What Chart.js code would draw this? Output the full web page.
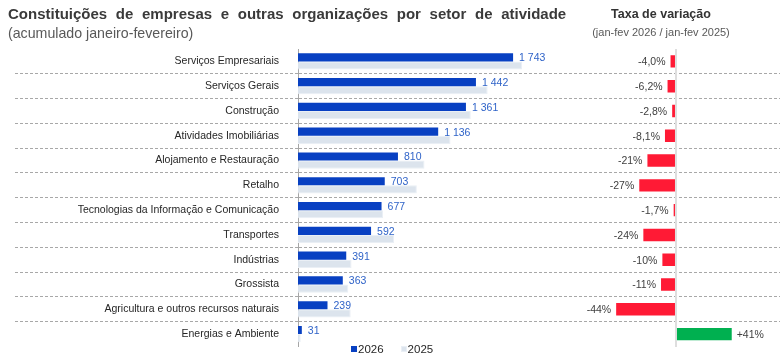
<!DOCTYPE html>
<html>
<head>
<meta charset="utf-8">
<script src="https://cdn.jsdelivr.net/npm/chart.js@4.4.1/dist/chart.umd.min.js"></script>
<style>
  body { margin: 0; background: #fff; font-family: "Liberation Sans", Arial, sans-serif; }
  #wrap { position: relative; width: 780px; height: 363px; overflow: hidden; }
  canvas { position: absolute; top: 0; }
  #left { left: 0; }
  #right { left: 560px; }
  .t { position: absolute; white-space: nowrap; line-height: 1; }
  #title { left: 8px; top: 5.5px; font-size: 15px; font-weight: bold; color: #3a3a3a; word-spacing: 4.5px; }
  #sub { left: 8px; top: 26px; font-size: 14.2px; color: #595959; }
  #rtitle { left: 561px; width: 200px; text-align: center; top: 8px; font-size: 12.5px; font-weight: bold; color: #333; }
  #rsub { left: 561px; width: 200px; text-align: center; top: 27px; font-size: 11px; color: #595959; }
  #legend { position: absolute; left: 351px; top: 343px; font-size: 11.5px; color: #262626; display: flex; }
  #legend span { display: flex; align-items: center; margin-right: 17px; }
  #legend i { display: inline-block; width: 6px; height: 6px; margin-right: 1px; box-sizing: border-box; }
</style>
</head>
<body>
<div id="wrap">
  <canvas id="left" width="780" height="363"></canvas>
  <canvas id="right" width="220" height="363"></canvas>
  <div class="t" id="title">Constituições de empresas e outras organizações por setor de atividade</div>
  <div class="t" id="sub">(acumulado janeiro-fevereiro)</div>
  <div class="t" id="rtitle">Taxa de variação</div>
  <div class="t" id="rsub">(jan-fev 2026 / jan-fev 2025)</div>
  <div id="legend"></div>
</div>
<script>
const categories = [
  "Serviços Empresariais",
  "Serviços Gerais",
  "Construção",
  "Atividades Imobiliárias",
  "Alojamento e Restauração",
  "Retalho",
  "Tecnologias da Informação e Comunicação",
  "Transportes",
  "Indústrias",
  "Grossista",
  "Agricultura e outros recursos naturais",
  "Energias e Ambiente"
]
const values2026 = [1743, 1442, 1361, 1136, 810, 703, 677, 592, 391, 363, 239, 31]
const values2025 = [1816, 1537, 1400, 1236, 1025, 963, 689, 779, 434, 408, 427, 22]
const variation = [-4.0, -6.2, -2.8, -8.1, -21, -27, -1.7, -24, -10, -11, -44, 41]

const font = "Liberation Sans"

function thousands(v) {
  return String(v).replace(/\B(?=(\d{3})+(?!\d))/g, " ")
}

function percent(v) {
  const s = Math.abs(v) < 10 ? v.toFixed(1).replace(".", ",") : v.toFixed(0)
  return (v > 0 ? "+" : "") + s + "%"
}

// writes the value next to the end of each bar of one dataset
function barLabels(datasetIndex, format, color, gap) {
  return {
    id: "barLabels" + datasetIndex,
    afterDatasetsDraw(chart) {
      const ctx = chart.ctx
      const data = chart.data.datasets[datasetIndex].data
      ctx.save()
      ctx.font = "10.5px " + font
      ctx.fillStyle = color
      ctx.textBaseline = "middle"
      chart.getDatasetMeta(datasetIndex).data.forEach((bar, i) => {
        const neg = data[i] < 0
        ctx.textAlign = neg ? "right" : "left"
        ctx.fillText(format(data[i]), bar.x + (neg ? -gap : gap), bar.y + 1)
      })
      ctx.restore()
    }
  }
}

const leftChart = new Chart(document.getElementById("left"), {
  type: "bar",
  data: {
    labels: categories,
    datasets: [
      {
        label: "2026",
        data: values2026,
        backgroundColor: "#0840c2",
        categoryPercentage: 0.66,
        barPercentage: 1
      },
      {
        label: "2025",
        data: values2025,
        backgroundColor: "#dce4ed",
        borderColor: "#eaeff5",
        borderWidth: 1,
        categoryPercentage: 0.66,
        barPercentage: 1
      }
    ]
  },
  options: {
    indexAxis: "y",
    responsive: false,
    animation: false,
    layout: { padding: { top: 49, bottom: 16.5, left: 0, right: 0 } },
    plugins: { legend: { display: false }, tooltip: { enabled: false } },
    scales: {
      x: { display: false, min: 0, max: 3906 },
      y: {
        grid: {
          offset: true,
          color: (c) => (c.type === "tick" && c.index > 0 ? "#a8a8a8" : "rgba(0,0,0,0)"),
          lineWidth: 1,
          tickLength: 283,
          tickBorderDash: [3, 2]
        },
        border: { display: true, color: "#a6a6a6", width: 1, dash: [3, 2] },
        ticks: {
          autoSkip: false,
          padding: -264,
          color: "#262626",
          font: { family: font, size: 10.5 }
        },
        afterFit: (scale) => { scale.width = 298 }
      }
    }
  },
  plugins: [barLabels(0, thousands, "#2f63c8", 6)]
})

new Chart(document.getElementById("right"), {
  type: "bar",
  data: {
    labels: categories,
    datasets: [
      {
        label: "Taxa de variação",
        data: variation,
        backgroundColor: variation.map((v) => (v < 0 ? "#ff1a35" : "#00b050")),
        categoryPercentage: 0.5,
        barPercentage: 1
      }
    ]
  },
  options: {
    indexAxis: "y",
    responsive: false,
    animation: false,
    layout: { padding: { top: 49, bottom: 16.5, left: 0, right: 0 } },
    plugins: { legend: { display: false }, tooltip: { enabled: false } },
    scales: {
      x: {
        min: -85.3,
        max: 76.5,
        ticks: { display: false },
        border: { display: false },
        grid: { color: "#dedede", lineWidth: 2, drawTicks: false },
        afterBuildTicks: (scale) => { scale.ticks = [{ value: 0 }] }
      },
      y: { display: false }
    }
  },
  plugins: [barLabels(0, percent, "#404040", 5)]
})

// legend from the left chart's datasets
const legend = document.getElementById("legend")
leftChart.data.datasets.forEach((ds) => {
  const item = document.createElement("span")
  const box = document.createElement("i")
  box.style.background = ds.backgroundColor
  if (ds.borderColor) box.style.border = "1px solid " + ds.borderColor
  item.appendChild(box)
  item.appendChild(document.createTextNode(ds.label))
  legend.appendChild(item)
})
</script>
</body>
</html>
